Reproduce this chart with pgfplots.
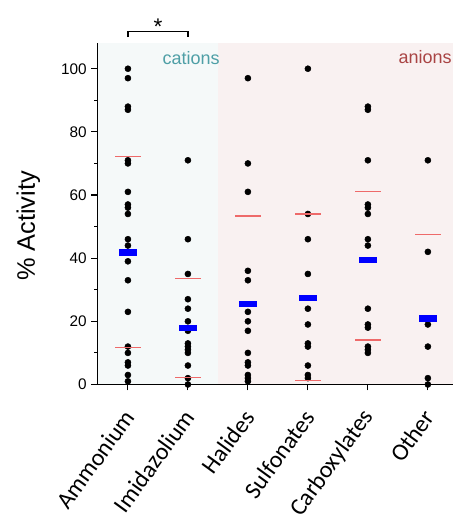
\documentclass[border=0pt]{standalone}
\usepackage{fontspec}
\setmainfont{Liberation Sans}
\newfontfamily\calibri{Carlito}
\usepackage{pgfplots}
\pgfplotsset{compat=1.18}
\definecolor{catbg}{HTML}{F5F9F9}
\definecolor{anbg}{HTML}{F9F1F1}
\definecolor{cattxt}{HTML}{4E9FA6}
\definecolor{antxt}{HTML}{A94444}
\definecolor{sdred}{HTML}{EE6A6A}
\pgfdeclareplotmark{meanbar}{\pgfpathrectangle{\pgfpoint{-6.5pt}{-2.35pt}}{\pgfpoint{13pt}{4.7pt}}\pgfusepathqfill}
\begin{document}
\begin{tikzpicture}
\begin{axis}[
  scale only axis, width=266.8pt, height=255.75pt,
  xmin=-0.51, xmax=5.42, ymin=0, ymax=108,
  axis x line=bottom, axis y line=left,
  axis line style={-, line width=0.9pt},
  axis on top,
  clip=false,
  tick align=outside,
  major tick length=4.5pt, minor tick length=2.4pt,
  every tick/.style={black, line width=0.8pt},
  xtick={0,1,2,3,4,5},
  xticklabels={Ammonium,Imidazolium,Halides,Sulfonates,Carboxylates,Other},
  xticklabel shift=14pt,
  xticklabel style={xshift=3pt, rotate=54, anchor=east, font=\calibri\fontsize{18}{20}\selectfont},
  ytick={0,20,40,60,80,100},
  minor y tick num=1,
  yticklabel style={font=\fontsize{11.5}{13}\selectfont},
  /pgf/number format/assume math mode=true,
  ylabel={\% Activity},
  ylabel style={font=\fontsize{19}{22}\selectfont, at={(axis description cs:-0.194,0.465)}, anchor=center, rotate=0},
]
\fill[catbg] (axis cs:-0.51,0) rectangle (axis cs:1.5,108);
\fill[anbg] (axis cs:1.5,0) rectangle (axis cs:5.42,108);

% data points
\addplot[only marks, mark=*, mark size=2.25pt, black] coordinates {
(0,100) (0,97) (0,88) (0,87) (0,71) (0,70) (0,61) (0,57) (0,56) (0,54) (0,46) (0,44) (0,39) (0,33) (0,23) (0,12) (0,10) (0,7) (0,6) (0,3) (0,1)
(1,71) (1,46) (1,35) (1,27) (1,24) (1,20) (1,17) (1,13) (1,12) (1,11) (1,10) (1,6) (1,2) (1,0)
(2,97) (2,70) (2,61) (2,36) (2,33) (2,23) (2,20) (2,17) (2,10) (2,7) (2,6) (2,3) (2,2) (2,1)
(3,100) (3,54) (3,46) (3,35) (3,24) (3,19) (3,13) (3,12) (3,6) (3,3) (3,2)
(4,88) (4,87) (4,71) (4,57) (4,56) (4,54) (4,46) (4,44) (4,24) (4,19) (4,18) (4,12) (4,11) (4,10)
(5,71) (5,42) (5,19) (5,12) (5,2) (5,0)
};
% mean +/- SD lines
\addplot[only marks, mark=-, mark size=9.6pt, mark options={sdred, line width=1pt}] coordinates {
(0,72.2) (0,11.8) (1,33.5) (1,2.3) (2,53.4) (3,54) (3,1.3) (4,61.1) (4,14.1) (5,47.4)
};
% means
\addplot[only marks, mark=meanbar, blue] coordinates {
(0,41.8) (1,17.9) (2,25.5) (3,27.5) (4,39.4) (5,20.9)
};

\node[font=\fontsize{13.5}{15}\selectfont, text=cattxt, anchor=base] at (axis cs:1.055,101.3) {cations};
\node[font=\fontsize{13.5}{15}\selectfont, text=antxt, anchor=base] at (axis cs:4.955,101.8) {anions};
\draw[line width=0.9pt] (axis cs:0,110) -- (axis cs:0,111.7) -- (axis cs:1,111.7) -- (axis cs:1,110);
\node[font=\fontsize{17}{19}\selectfont, anchor=base] at (axis cs:0.5,110.8) {*};
\coordinate (bl) at (rel axis cs:0,0);
\coordinate (tr) at (rel axis cs:1,1);
\end{axis}
\pgfresetboundingbox
\path[use as bounding box] ([xshift=-73pt,yshift=-102.4pt]bl) rectangle ([yshift=32.6pt]tr);
\end{tikzpicture}
\end{document}
